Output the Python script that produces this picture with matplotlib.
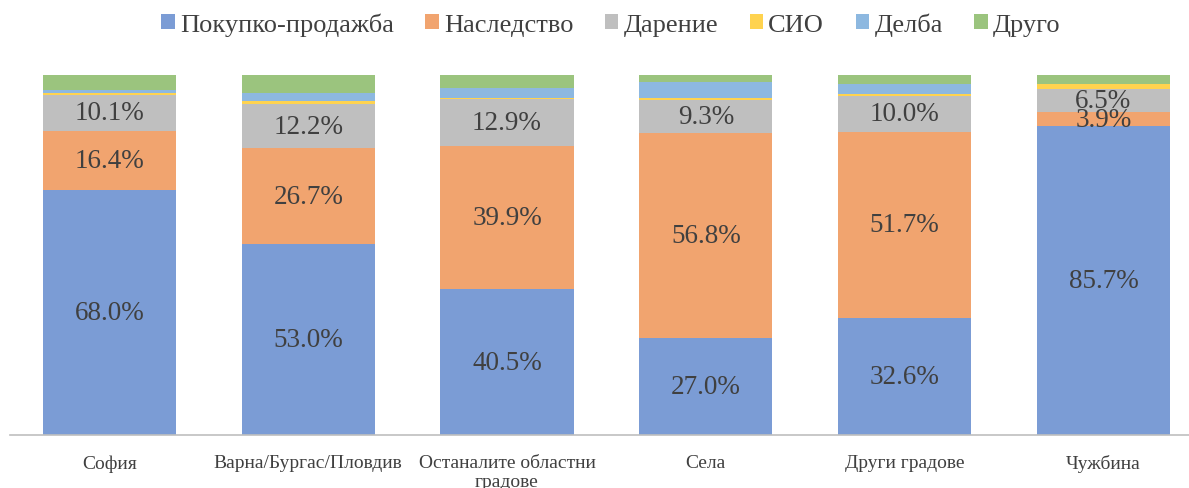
import numpy as np
import matplotlib
matplotlib.use('Agg')
import matplotlib.pyplot as plt

plt.rcParams['font.family'] = ['Liberation Serif', 'DejaVu Serif']

categories = ['София', 'Варна/Бургас/Пловдив', 'Останалите областни\nградове',
              'Села', 'Други градове', 'Чужбина']
series_names = ['Покупко-продажба', 'Наследство', 'Дарение', 'СИО', 'Делба', 'Друго']
pokupko = [68.0, 53.0, 40.5, 27.0, 32.6, 85.7]
nasledstvo = [16.4, 26.7, 39.9, 56.8, 51.7, 3.9]
darenie = [10.1, 12.2, 12.9, 9.3, 10.0, 6.5]
sio = [0.5, 0.8, 0.4, 0.5, 0.5, 1.3]
delba = [0.9, 2.2, 2.7, 4.4, 2.7, 0.0]
drugo = [4.1, 5.1, 3.6, 2.0, 2.5, 2.6]

colors = ['#7b9cd5', '#f1a46f', '#bfbfbf', '#ffd34f', '#8db8e0', '#9bc47e']
labelled = [True, True, True, False, False, False]

fig = plt.figure(figsize=(11.89, 4.89), dpi=100)
ax = fig.add_axes([10 / 1189, 53 / 489, 6 * 198.8 / 1189, 360 / 489])

x = np.arange(len(categories))
bottom = np.zeros(len(categories))
for name, vals, col, lab in zip(series_names,
                                [pokupko, nasledstvo, darenie, sio, delba, drugo],
                                colors, labelled):
    vals = np.array(vals)
    ax.bar(x, vals, 0.67, bottom=bottom, color=col, label=name, edgecolor='none')
    if lab:
        for xi, b, v in zip(x, bottom, vals):
            ax.text(xi, b + v / 2, f'{v:.1f}%', ha='center', va='center',
                    fontsize=19.5, color='#404040')
    bottom += vals

ax.set_xlim(-0.5, 5.5)
ax.set_ylim(0, 100)
ax.set_xticks(x)
ax.set_xticklabels(categories, fontsize=14, color='#404040', linespacing=1.1)
ax.tick_params(axis='x', length=0, pad=14)
ax.set_yticks([])
for s in ['top', 'right', 'left']:
    ax.spines[s].set_visible(False)
ax.spines['bottom'].set_color('#bfbfbf')
ax.spines['bottom'].set_linewidth(1.2)

fig.legend(loc='center', bbox_to_anchor=(611 / 1189, 1 - 25 / 489), ncol=6,
           frameon=False, fontsize=19, handlelength=0.5, handleheight=0.5,
           handletextpad=0.2, columnspacing=1.2, labelcolor='#404040')

fig.savefig('out.png', dpi=100)
